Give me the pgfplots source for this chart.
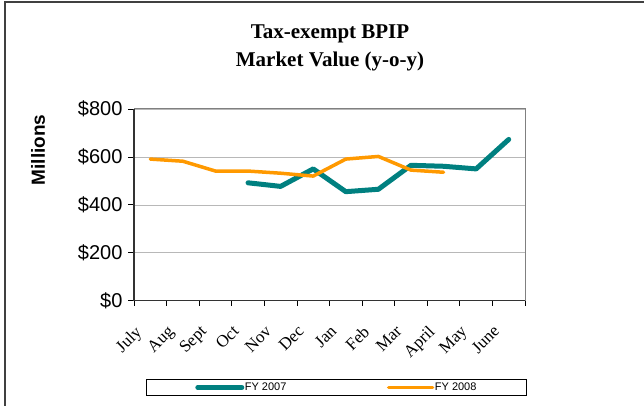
\documentclass[border=0pt]{standalone}
\usepackage{fontspec}
\setmainfont{Liberation Serif}
\newfontfamily\arial{Liberation Sans}
\usepackage{pgfplots}
\pgfplotsset{compat=1.18}
\definecolor{teal07}{RGB}{0,128,128}
\definecolor{orange08}{RGB}{255,153,0}
\begin{document}
\begin{tikzpicture}[x=1pt,y=1pt]
\useasboundingbox (0,0) rectangle (644,406);
\draw[line width=1.5pt, black!75] (5,0) -- (5,404) -- (644,404);
\node[font=\fontsize{21}{24}\selectfont\bfseries] at (330,372) {Tax-exempt BPIP};
\node[font=\fontsize{21}{24}\selectfont\bfseries] at (330,345) {Market Value (y-o-y)};
\begin{axis}[
  at={(134pt,105.3pt)}, anchor=south west,
  scale only axis, width=391pt, height=191.7pt,
  xmin=-0.5, xmax=11.5, ymin=0, ymax=800,
  xtick={0,...,11},
  xticklabels={July,Aug,Sept,Oct,Nov,Dec,Jan,Feb,Mar,April,May,June},
  major x tick style={draw=none},
  minor xtick={-0.5,0.5,...,11.5},
  minor tick length=5pt,
  x tick style={black, line width=0.8pt},
  tick align=outside,
  xtick pos=lower, ytick pos=left,
  ytick={0,200,400,600,800},
  yticklabels={\$0,\$200,\$400,\$600,\$800},
  major tick length=6pt,
  y tick style={black, line width=0.8pt},
  ymajorgrids, grid style={black!28, line width=0.6pt},
  axis line style={black!50, line width=1pt},
  yticklabel style={font=\arial\fontsize{20}{22}\selectfont, xshift=-2pt},
  xticklabel style={font=\fontsize{17}{19}\selectfont, rotate=45, anchor=north east, inner sep=1pt, yshift=0pt, xshift=-23pt},
  ylabel={Millions},
  ylabel style={font=\arial\bfseries\fontsize{19}{22}\selectfont, at={(axis description cs:-0.245,0.786)}, anchor=center},
  legend style={at={(0.517,-0.453)}, anchor=center, draw=black, line width=0.8pt,
    font=\arial\fontsize{11}{13}\selectfont, legend columns=2,
    inner xsep=49pt, inner ysep=3pt,
    /tikz/every even column/.append style={column sep=100pt},
    nodes={inner sep=0.5pt}},
  legend image code/.code={\draw[#1] (0pt,0pt) -- (44pt,0pt);},
  clip=false,
]
\addplot[teal07, line width=5pt, line cap=round, line join=round] coordinates {
 (3,492) (4,477) (5,550) (6,455) (7,465) (8,565) (9,561) (10,550) (11,673)};
\addlegendentry{FY 2007}
\addplot[orange08, line width=3.5pt, line cap=round, line join=round] coordinates {
 (0,591) (1,582) (2,541) (3,541) (4,532) (5,520) (6,591) (7,602) (8,545) (9,536)};
\addlegendentry{FY 2008}
\draw[black!80, line width=1.5pt] (rel axis cs:0,1) -- (rel axis cs:0,0) -- (rel axis cs:1,0);
\end{axis}
\end{tikzpicture}
\end{document}
